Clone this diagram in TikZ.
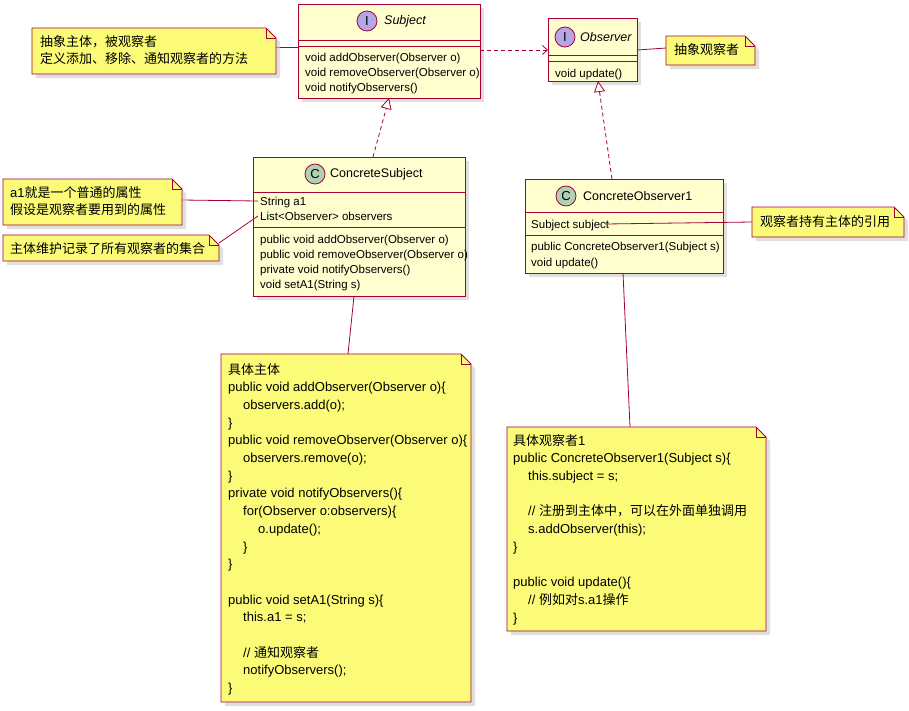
\documentclass[tikz,border=0pt]{standalone}
\usepackage{fontspec}
\setmainfont{Liberation Sans}
\newfontfamily\cjk{Noto Sans CJK SC}
\usetikzlibrary{arrows.meta,calc}
\definecolor{clsfill}{HTML}{FEFECE}
\definecolor{bord}{HTML}{A80036}
\definecolor{notefill}{HTML}{FBFB77}
\definecolor{ifill}{HTML}{B4A7E5}
\definecolor{cfill}{HTML}{ADD1B2}
\newcommand{\ind}{\hspace*{15pt}}
\newcommand{\C}[1]{{\cjk #1}}
\begin{document}
\begin{tikzpicture}[x=1pt,y=-1pt,
  cls/.style={draw=bord,fill=clsfill,line width=1pt,anchor=north west,inner sep=0,rectangle},
  ctext/.style={anchor=base west,inner sep=0,font=\fontsize{11.5}{13}\selectfont},
  ntext/.style={anchor=north west,inner sep=0,align=left,font=\fontsize{13}{17.7}\selectfont},
  circ/.style={circle,draw=bord,line width=0.8pt,minimum size=20pt,inner sep=0,font=\fontsize{13}{13}\selectfont},
  lnk/.style={draw=bord,line width=0.8pt},
  dep/.style={draw=bord,line width=0.8pt,dashed,dash pattern=on 4pt off 3pt}]
\useasboundingbox (0,0) rectangle (909,710);
\fill[white] (0,0) rectangle (909,710);
% note macro
\newcommand{\notebox}[5]{% name x1 y1 x2 y2
  \fill[gray!40,opacity=.6] (#2+4,#3+4) -- (#4-6,#3+4) -- (#4+4,#3+14) -- (#4+4,#5+4) -- (#2+4,#5+4) -- cycle;
  \draw[bord,fill=notefill,line width=0.8pt] (#2,#3) -- (#4-10,#3) -- (#4,#3+10) -- (#4,#5) -- (#2,#5) -- cycle;
  \draw[bord,line width=0.8pt] (#4-10,#3) -- (#4-10,#3+10) -- (#4,#3+10);
  \coordinate (#1) at ({(#2+#4)/2},{(#3+#5)/2});}
\newcommand{\shadowbox}[4]{\fill[gray!40,opacity=.6] (#1+4,#2+4) rectangle (#3+4,#4+4);}
% class boxes
\shadowbox{298}{4}{480}{98}
\node[cls,minimum width=182pt,minimum height=94pt] (subj) at (298,4) {};
\draw[bord,line width=0.8pt] (298,40) -- (480,40) (298,46) -- (480,46);
\node[circ,fill=ifill] (subjc) at (367,21) {I};
\node[anchor=west,inner sep=0,font=\fontsize{12.5}{13}\selectfont\itshape] (subjn) at (384,21) {Subject};
\node[ctext] (subj1) at (305,61) {void addObserver(Observer o)};
\node[ctext] (subj2) at (305,76) {void removeObserver(Observer o)};
\node[ctext] (subj3) at (305,91) {void notifyObservers()};

\shadowbox{548}{18}{637}{81}
\node[cls,minimum width=89pt,minimum height=63pt] (obs) at (548,18) {};
\draw[bord,line width=0.8pt] (548,55) -- (637,55) (548,61) -- (637,61);
\node[circ,fill=ifill] (obsc) at (565,37) {I};
\node[anchor=west,inner sep=0,font=\fontsize{12.5}{13}\selectfont\itshape] (obsn) at (580,37) {Observer};
\node[ctext] (obs1) at (555,77) {void update()};

\shadowbox{253}{157}{465}{296}
\node[cls,minimum width=212pt,minimum height=139pt] (cs) at (253,157) {};
\draw[bord,line width=0.8pt] (253,192) -- (465,192) (253,227) -- (465,227);
\node[circ,fill=cfill] (csc) at (315,174) {C};
\node[anchor=west,inner sep=0,font=\fontsize{12.5}{13}\selectfont] (csn) at (330,174) {ConcreteSubject};
\node[ctext] (csa1) at (260,205) {String a1};
\node[ctext] (csa2) at (260,220) {List<Observer> observers};
\node[ctext] (csm1) at (260,243) {public void addObserver(Observer o)};
\node[ctext] (csm2) at (260,258) {public void removeObserver(Observer o)};
\node[ctext] (csm3) at (260,273) {private void notifyObservers()};
\node[ctext] (csm4) at (260,288) {void setA1(String s)};

\shadowbox{525}{179}{723}{273}
\node[cls,minimum width=198pt,minimum height=94pt] (co) at (525,179) {};
\draw[bord,line width=0.8pt] (525,212) -- (723,212) (525,235) -- (723,235);
\node[circ,fill=cfill] (coc) at (566,196) {C};
\node[anchor=west,inner sep=0,font=\fontsize{12.5}{13}\selectfont] (con) at (583,196) {ConcreteObserver1};
\node[ctext] (coa1) at (531,228) {Subject subject};
\node[ctext] (com1) at (531,250) {public ConcreteObserver1(Subject s)};
\node[ctext] (com2) at (531,266) {void update()};

% relations
\coordinate (csTop) at (373,157);
\coordinate (subjBot) at (389,98);
\draw[dep,-{Triangle[open,fill=white,length=11pt,width=11pt]}] (csTop) -- (subjBot);
\coordinate (coTop) at (612,179);
\coordinate (obsBot) at (598,81);
\draw[dep,-{Triangle[open,fill=white,length=11pt,width=11pt]}] (coTop) -- (obsBot);
\coordinate (subjR) at (480,50);
\coordinate (obsL) at (548,50);
\draw[dep,-{Straight Barb[length=5pt,width=9pt]}] (subjR) -- (obsL);

% note links
\coordinate (n1a) at (276,47); \coordinate (subjL) at (298,47);
\draw[lnk] (n1a) -- (subjL);
\coordinate (n2a) at (666,48); \coordinate (obsR) at (637,50);
\draw[lnk] (n2a) -- (obsR);
\coordinate (n3a) at (182,200); \coordinate (csA1) at (258,201);
\draw[lnk] (n3a) -- (csA1);
\coordinate (n4a) at (219,243); \coordinate (csA2) at (258,216);
\draw[lnk] (n4a) -- (csA2);
\coordinate (n5a) at (752,222); \coordinate (coA1) at (605,224);
\draw[lnk] (n5a) -- (coA1);
\coordinate (csBot) at (354,296); \coordinate (n6a) at (348,354);
\draw[lnk] (csBot) -- (n6a);
\coordinate (coBot) at (623,273); \coordinate (n7a) at (630,427);
\draw[lnk] (coBot) -- (n7a);

% notes
\notebox{n1}{32}{28}{276}{74}
\node[ntext] (n1t) at (40,35) {\C{抽象主体，被观察者}\\\C{定义添加、移除、通知观察者的方法}};
\notebox{n2}{666}{36}{755}{65}
\node[ntext] (n2t) at (674,43) {\C{抽象观察者}};
\notebox{n3}{3}{179}{182}{225}
\node[ntext] (n3t) at (10,186) {a1\C{就是一个普通的属性}\\\C{假设是观察者要用到的属性}};
\notebox{n4}{3}{235}{219}{261}
\node[ntext] (n4t) at (10,242) {\C{主体维护记录了所有观察者的集合}};
\notebox{n5}{752}{207}{904}{237}
\node[ntext] (n5t) at (760,215) {\C{观察者持有主体的引用}};
\notebox{n6}{221}{354}{471}{702}
\node[ntext] (n6t) at (228,363) {\C{具体主体}\\
public void addObserver(Observer o)\{\\
\ind observers.add(o);\\
\}\\
public void removeObserver(Observer o)\{\\
\ind observers.remove(o);\\
\}\\
private void notifyObservers()\{\\
\ind for(Observer o:observers)\{\\
\ind\ind o.update();\\
\ind \}\\
\}\\
\\
public void setA1(String s)\{\\
\ind this.a1 = s;\\
\\
\ind // \C{通知观察者}\\
\ind notifyObservers();\\
\}};
\notebox{n7}{507}{427}{766}{631}
\node[ntext] (n7t) at (513,434) {\C{具体观察者}1\\
public ConcreteObserver1(Subject s)\{\\
\ind this.subject = s;\\
\\
\ind // \C{注册到主体中，可以在外面单独调用}\\
\ind s.addObserver(this);\\
\}\\
\\
public void update()\{\\
\ind // \C{例如对}s.a1\C{操作}\\
\}};
\end{tikzpicture}
\end{document}
